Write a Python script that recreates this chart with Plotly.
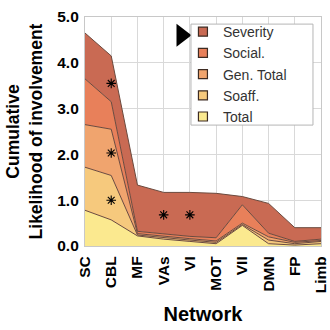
import plotly.graph_objects as go

# Networks along the x axis
networks = ["SC", "CBL", "MF", "VAs", "VI", "MOT", "VII", "DMN", "FP", "Limb"]

# Cumulative likelihood (upper boundary of each stacked band)
total = [0.78, 0.57, 0.22, 0.15, 0.10, 0.05, 0.45, 0.05, 0.02, 0.05]
soaff = [1.72, 1.54, 0.24, 0.18, 0.13, 0.08, 0.47, 0.13, 0.05, 0.10]
gen_total = [2.65, 2.55, 0.27, 0.21, 0.16, 0.11, 0.50, 0.20, 0.08, 0.12]
social = [3.65, 3.15, 0.32, 0.26, 0.21, 0.18, 0.90, 0.28, 0.10, 0.15]
severity = [4.65, 4.15, 1.33, 1.17, 1.17, 1.15, 1.08, 0.93, 0.40, 0.40]

# Significance markers
sig_x = ["CBL", "CBL", "CBL", "VAs", "VI"]
sig_y = [3.55, 2.03, 1.00, 0.68, 0.68]

y_ticks = [0, 1, 2, 3, 4, 5]

layers = [
    ("Total", total, "#fbe98f"),
    ("Soaff.", soaff, "#f6c97d"),
    ("Gen. Total", gen_total, "#f0a46e"),
    ("Social.", social, "#e8805a"),
    ("Severity", severity, "#c96a53"),
]

x_idx = list(range(len(networks)))

fig = go.Figure()
for i, (name, vals, color) in enumerate(layers):
    fig.add_trace(go.Scatter(
        x=x_idx, y=vals, name=name, mode="lines",
        line=dict(color="#6b4a3e", width=1),
        fill="tozeroy" if i == 0 else "tonexty",
        fillcolor=color, showlegend=False,
    ))

# Square swatches for the legend
for name, _, color in layers:
    fig.add_trace(go.Scatter(
        x=[None], y=[None], name=name, mode="markers",
        marker=dict(symbol="square", size=9, color=color,
                    line=dict(color="#3d2b22", width=1.2)),
    ))

fig.add_trace(go.Scatter(
    x=[networks.index(n) for n in sig_x], y=sig_y, mode="markers",
    marker=dict(symbol="asterisk-open", size=8, color="black",
                line=dict(color="black", width=1.1)),
    showlegend=False, hoverinfo="skip",
))

# Pointer arrow next to the legend
fig.add_trace(go.Scatter(
    x=[3.68], y=[4.6], mode="markers",
    marker=dict(symbol="triangle-right", size=20, color="black"),
    showlegend=False, hoverinfo="skip",
))

family = "Liberation Sans, Arial, Helvetica, sans-serif"
tick_font = dict(family=family, size=15.5, color="black", weight="bold")

# Legend frame drawn as a shape so its size can be set independently
fig.add_shape(
    type="rect", xref="paper", yref="paper",
    x0=0.449, x1=0.966, y0=0.528, y1=0.969,
    fillcolor="white", line=dict(color="#b5b5b5", width=1), layer="above",
)

fig.update_layout(
    width=330, height=330,
    margin=dict(l=85, r=9, t=17, b=84),
    paper_bgcolor="white", plot_bgcolor="white",
    font=dict(family=family),
    showlegend=True,
    legend=dict(
        x=0.415, y=1.004, xanchor="left", yanchor="top",
        traceorder="reversed",
        bgcolor="rgba(0,0,0,0)", borderwidth=0,
        font=dict(size=14, color="#333333"),
        itemwidth=30, tracegroupgap=0,
    ),
    xaxis=dict(
        range=[0, 9], tickmode="array", tickvals=x_idx, ticktext=networks,
        tickangle=-90, tickfont=tick_font, showgrid=True, gridcolor="#d9d9d9",
        gridwidth=1.2, showline=True, linecolor="#c8c8c8", linewidth=1.2,
        mirror=True, zeroline=False, ticks="", ticklabelstandoff=3,
        automargin=False,
        title=dict(text="Network", font=dict(size=20, color="black", weight="bold"),
                   standoff=14),
    ),
    yaxis=dict(
        range=[0, 5], tickmode="array", tickvals=y_ticks,
        ticktext=[f"{v:.1f}" for v in y_ticks],
        tickfont=tick_font, showgrid=True, gridcolor="#d9d9d9", gridwidth=1.2,
        showline=True, linecolor="#c8c8c8", linewidth=1.2, mirror=True,
        zeroline=False, ticks="", ticklabelstandoff=2, automargin=False,
        title=dict(text="Cumulative<br>Likelihood of involvement",
                   font=dict(size=17.5, color="black", weight="bold"), standoff=10),
    ),
)

fig.write_html("out.html")
